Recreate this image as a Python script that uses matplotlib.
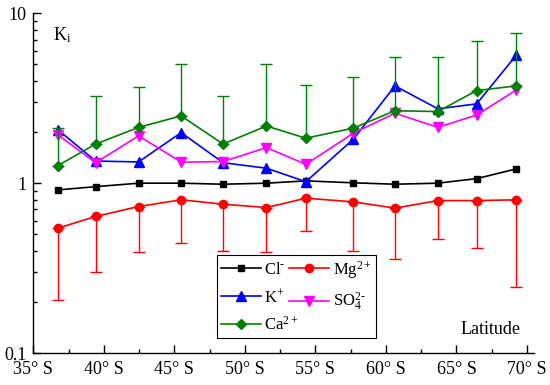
import matplotlib
matplotlib.use("Agg")
import matplotlib.pyplot as plt
from matplotlib.font_manager import FontProperties
from matplotlib.lines import Line2D
from matplotlib.ticker import FixedLocator, FuncFormatter, LogLocator, NullFormatter

FAMILY = "Liberation Serif"
plt.rcParams["font.family"] = FAMILY
plt.rcParams["mathtext.fontset"] = "custom"
plt.rcParams["mathtext.rm"] = FAMILY
plt.rcParams["mathtext.it"] = FAMILY + ":italic"
plt.rcParams["mathtext.bf"] = FAMILY + ":bold"
plt.rcParams["axes.unicode_minus"] = False

latitude = [36.75, 39.42, 42.46, 45.48, 48.45, 51.53, 54.32, 57.69, 60.64, 63.68, 66.43, 69.25]

cl = [0.913, 0.954, 1.0, 1.0, 0.986, 1.0, 1.032, 1.005, 0.986, 1.0, 1.064, 1.214]
mg = [0.544, 0.637, 0.729, 0.798, 0.752, 0.719, 0.816, 0.776, 0.713, 0.79, 0.79, 0.798]
mg_low = [0.206, 0.302, 0.396, 0.444, 0.40, 0.396, 0.524, 0.40, 0.357, 0.469, 0.418, 0.245]
k = [2.06, 1.35, 1.334, 1.985, 1.32, 1.225, 1.02, 1.815, 3.74, 2.74, 2.93, 5.68]
so4 = [1.92, 1.32, 1.90, 1.33, 1.34, 1.62, 1.29, 1.97, 2.58, 2.13, 2.52, 3.54]
ca = [1.27, 1.70, 2.13, 2.49, 1.70, 2.17, 1.84, 2.11, 2.67, 2.64, 3.51, 3.74]
ca_high = [2.11, 3.28, 3.67, 5.03, 3.26, 5.01, 3.79, 4.24, 5.51, 5.56, 6.90, 7.69]

x_ticks = [35, 40, 45, 50, 55, 60, 65, 70]
x_tick_labels = ["35° S", "40° S", "45° S", "50° S", "55° S", "60° S", "65° S", "70° S"]

font = FontProperties(family=FAMILY, size=13)
legend_font = FontProperties(family=FAMILY, size=12)

fig = plt.figure(figsize=(5.5, 3.85), dpi=100)
ax = fig.add_axes([0.0606, 0.083, 0.9104, 0.8824])

lw = 1.2
styles = {
    "cl": dict(color="black", marker="s", ms=5),
    "mg": dict(color="red", marker="o", ms=6),
    "k": dict(color="blue", marker="^", ms=6.5),
    "so4": dict(color="magenta", marker="v", ms=6.5),
    "ca": dict(color="#008000", marker="D", ms=5.5),
}

ax.plot(latitude, cl, lw=lw, zorder=3, **styles["cl"])

mg_err = [[m - lo for m, lo in zip(mg, mg_low)], [0] * len(mg)]
ax.errorbar(latitude, mg, yerr=mg_err, lw=lw, elinewidth=1.0, capsize=4,
            capthick=1.0, zorder=3, **styles["mg"])

ax.plot(latitude, k, lw=lw, zorder=4, **styles["k"])
ax.plot(latitude, so4, lw=lw, zorder=4, **styles["so4"])

ca_err = [[0] * len(ca), [hi - c for c, hi in zip(ca, ca_high)]]
ax.errorbar(latitude, ca, yerr=ca_err, lw=lw, elinewidth=1.0, capsize=4,
            capthick=1.0, zorder=5, **styles["ca"])

ax.set_yscale("log")
ax.set_ylim(0.1, 10)
ax.set_xlim(35, 70.5)

ax.yaxis.set_major_locator(FixedLocator([0.1, 1, 10]))
ax.yaxis.set_major_formatter(FuncFormatter(lambda v, p: "%g" % v))
ax.yaxis.set_minor_locator(LogLocator(base=10, subs=range(2, 10)))
ax.yaxis.set_minor_formatter(NullFormatter())

ax.set_xticks(x_ticks)
ax.set_xticklabels(x_tick_labels)
ax.set_xticks([37.5, 42.5, 47.5, 52.5, 57.5, 62.5, 67.5], minor=True)

ax.tick_params(which="both", direction="in", width=1.0)
ax.tick_params(which="major", length=6)
ax.tick_params(which="minor", length=3)
ax.tick_params(axis="x", pad=6)
ax.tick_params(axis="y", pad=5)

for lbl in ax.get_xticklabels() + ax.get_yticklabels():
    lbl.set_fontproperties(font)

for side in ["top", "right"]:
    ax.spines[side].set_visible(False)
for side in ["left", "bottom"]:
    ax.spines[side].set_linewidth(1.0)

ax.text(0.04, 0.965, "K$_{\\mathrm{i}}$", transform=ax.transAxes,
        fontproperties=font, ha="left", va="top")
ax.text(0.972, 0.044, "Latitude", transform=ax.transAxes,
        fontproperties=font, ha="right", va="bottom")

legend_keys = ["cl", "k", "ca", "mg", "so4"]
legend_labels = {
    "cl": "Cl$^{\\text{-}}$",
    "mg": "Mg$^{\\mathrm{2+}}$",
    "k": "K$^{\\mathrm{+}}$",
    "so4": "SO$_{\\mathrm{4}}^{\\text{2-}}$",
    "ca": "Ca$^{\\mathrm{2+}}$",
}
handles = [Line2D([], [], lw=lw, **styles[key]) for key in legend_keys]
leg = ax.legend(handles, [legend_labels[key] for key in legend_keys],
                ncol=2, loc="lower left", mode="expand",
                bbox_to_anchor=(0.366, 0.0433, 0.3176, 0.2),
                prop=legend_font, handlelength=2.4, handletextpad=0.2,
                borderpad=0.25, labelspacing=0.6,
                fancybox=False, edgecolor="black", framealpha=1,
                borderaxespad=0)
leg.get_frame().set_linewidth(0.8)

fig.savefig("out.png", dpi=100)
